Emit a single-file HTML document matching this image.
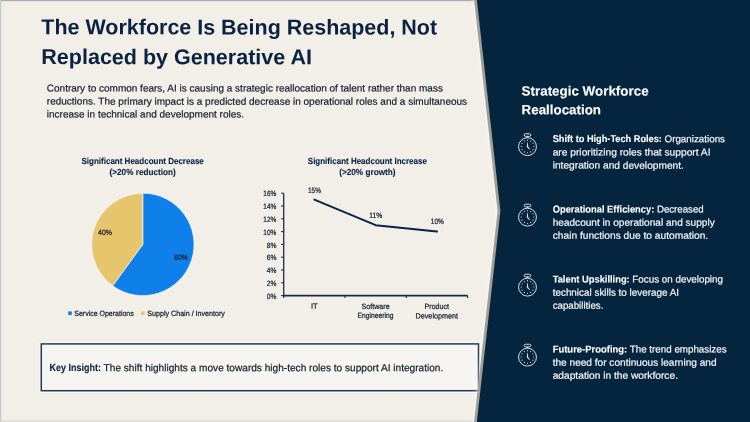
<!DOCTYPE html>
<html><head><meta charset="utf-8"><title>The Workforce Is Being Reshaped</title>
<style>
html,body{margin:0;padding:0;background:#F2EFE9;}
body{width:750px;height:422px;overflow:hidden;}
svg{display:block;font-family:"Liberation Sans",sans-serif;will-change:transform;transform:translateZ(0);}
</style></head><body>
<svg width="750" height="422" viewBox="0 0 750 422">
<defs>
<filter id="b1" x="-10%" y="-5%" width="120%" height="110%" color-interpolation-filters="sRGB"><feGaussianBlur stdDeviation="1.1"/></filter>
<filter id="b2" x="-10%" y="-5%" width="120%" height="110%" color-interpolation-filters="sRGB"><feGaussianBlur stdDeviation="0.4"/></filter>
</defs>
<rect x="0" y="0" width="750" height="422" fill="#F2EFE9"/>
<rect x="0" y="0" width="500" height="1.2" fill="#A9ADB1"/>
<rect x="0" y="0" width="1.2" height="422" fill="#C3C8CC"/>
<rect x="0" y="420.6" width="500" height="1.4" fill="#D9D9D7"/>
<text x="41.30" y="34.30" font-size="21.5" font-weight="bold" fill="#0B2341" text-anchor="start" textLength="395.80" lengthAdjust="spacingAndGlyphs" transform="rotate(0.03 41.30 34.30)">The Workforce Is Being Reshaped, Not</text>
<text x="41.30" y="64.10" font-size="21.5" font-weight="bold" fill="#0B2341" text-anchor="start" textLength="270.60" lengthAdjust="spacingAndGlyphs" transform="rotate(0.03 41.30 64.10)">Replaced by Generative AI</text>
<text x="46.80" y="91.40" font-size="9.9" font-weight="normal" fill="#18202F" stroke="#18202F" stroke-width="0.22" text-anchor="start" textLength="396.10" lengthAdjust="spacingAndGlyphs" transform="rotate(0.03 46.80 91.40)">Contrary to common fears, AI is causing a strategic reallocation of talent rather than mass</text>
<text x="46.80" y="104.60" font-size="9.9" font-weight="normal" fill="#18202F" stroke="#18202F" stroke-width="0.22" text-anchor="start" textLength="420.30" lengthAdjust="spacingAndGlyphs" transform="rotate(0.03 46.80 104.60)">reductions. The primary impact is a predicted decrease in operational roles and a simultaneous</text>
<text x="46.80" y="117.50" font-size="9.9" font-weight="normal" fill="#18202F" stroke="#18202F" stroke-width="0.22" text-anchor="start" textLength="197.20" lengthAdjust="spacingAndGlyphs" transform="rotate(0.03 46.80 117.50)">increase in technical and development roles.</text>
<text x="81.50" y="163.70" font-size="8.9" font-weight="bold" fill="#0B2341" stroke="#0B2341" stroke-width="0.12" text-anchor="start" textLength="122.30" lengthAdjust="spacingAndGlyphs" transform="rotate(0.03 81.50 163.70)">Significant Headcount Decrease</text>
<text x="109.50" y="174.50" font-size="8.9" font-weight="bold" fill="#0B2341" stroke="#0B2341" stroke-width="0.12" text-anchor="start" textLength="66.30" lengthAdjust="spacingAndGlyphs" transform="rotate(0.03 109.50 174.50)">(&gt;20% reduction)</text>
<text x="307.80" y="163.70" font-size="8.9" font-weight="bold" fill="#0B2341" stroke="#0B2341" stroke-width="0.12" text-anchor="start" textLength="119.10" lengthAdjust="spacingAndGlyphs" transform="rotate(0.03 307.80 163.70)">Significant Headcount Increase</text>
<text x="339.20" y="174.50" font-size="8.9" font-weight="bold" fill="#0B2341" stroke="#0B2341" stroke-width="0.12" text-anchor="start" textLength="56.40" lengthAdjust="spacingAndGlyphs" transform="rotate(0.03 339.20 174.50)">(&gt;20% growth)</text>
<circle cx="142.8" cy="244.4" r="51.800000000000004" fill="#FBF9F5"/>
<path d="M142.8,244.4 L142.8,193.2 A51.2,51.2 0 1 1 112.71,285.82 Z" fill="#0F80EA" stroke="#FBF9F5" stroke-width="0.6" stroke-linejoin="round"/>
<path d="M142.8,244.4 L112.71,285.82 A51.2,51.2 0 0 1 142.8,193.2 Z" fill="#E6C56C" stroke="#FBF9F5" stroke-width="0.6" stroke-linejoin="round"/>
<text x="98.00" y="235.00" font-size="7.7" font-weight="normal" fill="#121B2A" stroke="#121B2A" stroke-width="0.22" text-anchor="start" textLength="14.00" lengthAdjust="spacingAndGlyphs" transform="rotate(0.03 98.00 235.00)">40%</text>
<text x="174.00" y="260.00" font-size="7.7" font-weight="normal" fill="#121B2A" stroke="#121B2A" stroke-width="0.22" text-anchor="start" textLength="14.00" lengthAdjust="spacingAndGlyphs" transform="rotate(0.03 174.00 260.00)">60%</text>
<rect x="68.2" y="311.4" width="3.6" height="3.6" fill="#0F80EA"/>
<text x="74.30" y="315.80" font-size="7.7" font-weight="normal" fill="#121B2A" stroke="#121B2A" stroke-width="0.22" text-anchor="start" textLength="59.40" lengthAdjust="spacingAndGlyphs" transform="rotate(0.03 74.30 315.80)">Service Operations</text>
<rect x="141.0" y="311.4" width="3.6" height="3.6" fill="#E6C56C"/>
<text x="147.30" y="315.80" font-size="7.7" font-weight="normal" fill="#121B2A" stroke="#121B2A" stroke-width="0.22" text-anchor="start" textLength="77.60" lengthAdjust="spacingAndGlyphs" transform="rotate(0.03 147.30 315.80)">Supply Chain / Inventory</text>
<path d="M283.7,193.2 V295.6" fill="none" stroke="#1E2C42" stroke-width="1.3"/>
<path d="M283.05,295.6 H467.6" fill="none" stroke="#1E2C42" stroke-width="1.7"/>
<path d="M281.09999999999997,295.60 H283.7" stroke="#1E2C42" stroke-width="1.1"/>
<text x="276.30" y="298.80" font-size="7.7" font-weight="normal" fill="#121B2A" stroke="#121B2A" stroke-width="0.22" text-anchor="end" textLength="9.60" lengthAdjust="spacingAndGlyphs" transform="rotate(0.03 276.30 298.80)">0%</text>
<path d="M281.09999999999997,282.80 H283.7" stroke="#1E2C42" stroke-width="1.1"/>
<text x="276.30" y="286.00" font-size="7.7" font-weight="normal" fill="#121B2A" stroke="#121B2A" stroke-width="0.22" text-anchor="end" textLength="9.60" lengthAdjust="spacingAndGlyphs" transform="rotate(0.03 276.30 286.00)">2%</text>
<path d="M281.09999999999997,270.00 H283.7" stroke="#1E2C42" stroke-width="1.1"/>
<text x="276.30" y="273.20" font-size="7.7" font-weight="normal" fill="#121B2A" stroke="#121B2A" stroke-width="0.22" text-anchor="end" textLength="9.60" lengthAdjust="spacingAndGlyphs" transform="rotate(0.03 276.30 273.20)">4%</text>
<path d="M281.09999999999997,257.20 H283.7" stroke="#1E2C42" stroke-width="1.1"/>
<text x="276.30" y="260.40" font-size="7.7" font-weight="normal" fill="#121B2A" stroke="#121B2A" stroke-width="0.22" text-anchor="end" textLength="9.60" lengthAdjust="spacingAndGlyphs" transform="rotate(0.03 276.30 260.40)">6%</text>
<path d="M281.09999999999997,244.40 H283.7" stroke="#1E2C42" stroke-width="1.1"/>
<text x="276.30" y="247.60" font-size="7.7" font-weight="normal" fill="#121B2A" stroke="#121B2A" stroke-width="0.22" text-anchor="end" textLength="9.60" lengthAdjust="spacingAndGlyphs" transform="rotate(0.03 276.30 247.60)">8%</text>
<path d="M281.09999999999997,231.60 H283.7" stroke="#1E2C42" stroke-width="1.1"/>
<text x="276.30" y="234.80" font-size="7.7" font-weight="normal" fill="#121B2A" stroke="#121B2A" stroke-width="0.22" text-anchor="end" textLength="13.00" lengthAdjust="spacingAndGlyphs" transform="rotate(0.03 276.30 234.80)">10%</text>
<path d="M281.09999999999997,218.80 H283.7" stroke="#1E2C42" stroke-width="1.1"/>
<text x="276.30" y="222.00" font-size="7.7" font-weight="normal" fill="#121B2A" stroke="#121B2A" stroke-width="0.22" text-anchor="end" textLength="13.00" lengthAdjust="spacingAndGlyphs" transform="rotate(0.03 276.30 222.00)">12%</text>
<path d="M281.09999999999997,206.00 H283.7" stroke="#1E2C42" stroke-width="1.1"/>
<text x="276.30" y="209.20" font-size="7.7" font-weight="normal" fill="#121B2A" stroke="#121B2A" stroke-width="0.22" text-anchor="end" textLength="13.00" lengthAdjust="spacingAndGlyphs" transform="rotate(0.03 276.30 209.20)">14%</text>
<path d="M281.09999999999997,193.20 H283.7" stroke="#1E2C42" stroke-width="1.1"/>
<text x="276.30" y="196.40" font-size="7.7" font-weight="normal" fill="#121B2A" stroke="#121B2A" stroke-width="0.22" text-anchor="end" textLength="13.00" lengthAdjust="spacingAndGlyphs" transform="rotate(0.03 276.30 196.40)">16%</text>
<path d="M283.70,295.6 V298.0" stroke="#1E2C42" stroke-width="1.1"/>
<path d="M345.00,295.6 V298.0" stroke="#1E2C42" stroke-width="1.1"/>
<path d="M406.30,295.6 V298.0" stroke="#1E2C42" stroke-width="1.1"/>
<path d="M467.60,295.6 V298.0" stroke="#1E2C42" stroke-width="1.1"/>
<path d="M314.35,199.60 L375.65,225.20 L436.95,231.60" fill="none" stroke="#0B2341" stroke-width="2" stroke-linecap="round" stroke-linejoin="round"/>
<text x="314.50" y="193.00" font-size="7.7" font-weight="normal" fill="#121B2A" stroke="#121B2A" stroke-width="0.22" text-anchor="middle" textLength="13.00" lengthAdjust="spacingAndGlyphs" transform="rotate(0.03 314.50 193.00)">15%</text>
<text x="375.80" y="217.90" font-size="7.7" font-weight="normal" fill="#121B2A" stroke="#121B2A" stroke-width="0.22" text-anchor="middle" textLength="13.00" lengthAdjust="spacingAndGlyphs" transform="rotate(0.03 375.80 217.90)">11%</text>
<text x="437.30" y="224.40" font-size="7.7" font-weight="normal" fill="#121B2A" stroke="#121B2A" stroke-width="0.22" text-anchor="middle" textLength="13.00" lengthAdjust="spacingAndGlyphs" transform="rotate(0.03 437.30 224.40)">10%</text>
<text x="314.30" y="308.70" font-size="7.7" font-weight="normal" fill="#121B2A" stroke="#121B2A" stroke-width="0.22" text-anchor="middle" transform="rotate(0.03 314.30 308.70)">IT</text>
<text x="375.60" y="308.70" font-size="7.7" font-weight="normal" fill="#121B2A" stroke="#121B2A" stroke-width="0.22" text-anchor="middle" textLength="28.00" lengthAdjust="spacingAndGlyphs" transform="rotate(0.03 375.60 308.70)">Software</text>
<text x="375.60" y="318.40" font-size="7.7" font-weight="normal" fill="#121B2A" stroke="#121B2A" stroke-width="0.22" text-anchor="middle" textLength="36.00" lengthAdjust="spacingAndGlyphs" transform="rotate(0.03 375.60 318.40)">Engineering</text>
<text x="436.80" y="308.70" font-size="7.7" font-weight="normal" fill="#121B2A" stroke="#121B2A" stroke-width="0.22" text-anchor="middle" textLength="24.50" lengthAdjust="spacingAndGlyphs" transform="rotate(0.03 436.80 308.70)">Product</text>
<text x="436.80" y="318.40" font-size="7.7" font-weight="normal" fill="#121B2A" stroke="#121B2A" stroke-width="0.22" text-anchor="middle" textLength="42.50" lengthAdjust="spacingAndGlyphs" transform="rotate(0.03 436.80 318.40)">Development</text>
<rect x="39.9" y="342.6" width="440.0" height="49.6" fill="none" stroke="#FFFFFF" stroke-opacity="0.7" stroke-width="1.2"/>
<rect x="41.3" y="343.9" width="437.2" height="46.8" fill="#F7F5F1" stroke="#22385A" stroke-width="1.5"/>
<text x="49.60" y="371.20" font-size="10.35" font-weight="bold" fill="#0B2341" stroke="#0B2341" stroke-width="0.12" text-anchor="start" textLength="51.30" lengthAdjust="spacingAndGlyphs" transform="rotate(0.03 49.60 371.20)">Key Insight:</text>
<text x="103.60" y="371.20" font-size="10.35" font-weight="normal" fill="#18202F" stroke="#18202F" stroke-width="0.22" text-anchor="start" textLength="339.70" lengthAdjust="spacingAndGlyphs" transform="rotate(0.03 103.60 371.20)">The shift highlights a move towards high-tech roles to support AI integration.</text>
<polygon points="471.8,-6 760,-6 760,428 471.8,428 496.0,211" fill="#FFFFFF" fill-opacity="0.4" filter="url(#b1)"/>
<polygon points="473.4,-6 760,-6 760,428 473.4,428 497.6,211" fill="#A19E98" filter="url(#b2)"/>
<polygon points="476.2,-6 760,-6 760,428 476.2,428 500.4,211" fill="#05253F"/>
<text x="521.60" y="95.40" font-size="13.4" font-weight="bold" fill="#FFFFFF" stroke="#FFFFFF" stroke-width="0.12" text-anchor="start" textLength="127.00" lengthAdjust="spacingAndGlyphs" transform="rotate(0.03 521.60 95.40)">Strategic Workforce</text>
<text x="521.60" y="114.30" font-size="13.4" font-weight="bold" fill="#FFFFFF" stroke="#FFFFFF" stroke-width="0.12" text-anchor="start" textLength="79.40" lengthAdjust="spacingAndGlyphs" transform="rotate(0.03 521.60 114.30)">Reallocation</text>
<text x="552.70" y="142.30" font-size="9.9" font-weight="bold" fill="#FFFFFF" stroke="#FFFFFF" stroke-width="0.12" text-anchor="start" textLength="109.20" lengthAdjust="spacingAndGlyphs" transform="rotate(0.03 552.70 142.30)">Shift to High-Tech Roles:</text>
<text x="664.50" y="142.30" font-size="9.9" font-weight="normal" fill="#F0F2F4" stroke="#F0F2F4" stroke-width="0.22" text-anchor="start" textLength="60.50" lengthAdjust="spacingAndGlyphs" transform="rotate(0.03 664.50 142.30)">Organizations</text>
<text x="552.70" y="155.45" font-size="9.9" font-weight="normal" fill="#F0F2F4" stroke="#F0F2F4" stroke-width="0.22" text-anchor="start" textLength="157.80" lengthAdjust="spacingAndGlyphs" transform="rotate(0.03 552.70 155.45)">are prioritizing roles that support AI</text>
<text x="552.70" y="168.60" font-size="9.9" font-weight="normal" fill="#F0F2F4" stroke="#F0F2F4" stroke-width="0.22" text-anchor="start" textLength="131.20" lengthAdjust="spacingAndGlyphs" transform="rotate(0.03 552.70 168.60)">integration and development.</text>
<text x="552.70" y="212.50" font-size="9.9" font-weight="bold" fill="#FFFFFF" stroke="#FFFFFF" stroke-width="0.12" text-anchor="start" textLength="101.60" lengthAdjust="spacingAndGlyphs" transform="rotate(0.03 552.70 212.50)">Operational Efficiency:</text>
<text x="656.90" y="212.50" font-size="9.9" font-weight="normal" fill="#F0F2F4" stroke="#F0F2F4" stroke-width="0.22" text-anchor="start" textLength="46.80" lengthAdjust="spacingAndGlyphs" transform="rotate(0.03 656.90 212.50)">Decreased</text>
<text x="552.70" y="225.65" font-size="9.9" font-weight="normal" fill="#F0F2F4" stroke="#F0F2F4" stroke-width="0.22" text-anchor="start" textLength="162.00" lengthAdjust="spacingAndGlyphs" transform="rotate(0.03 552.70 225.65)">headcount in operational and supply</text>
<text x="552.70" y="238.80" font-size="9.9" font-weight="normal" fill="#F0F2F4" stroke="#F0F2F4" stroke-width="0.22" text-anchor="start" textLength="155.50" lengthAdjust="spacingAndGlyphs" transform="rotate(0.03 552.70 238.80)">chain functions due to automation.</text>
<text x="552.70" y="282.50" font-size="9.9" font-weight="bold" fill="#FFFFFF" stroke="#FFFFFF" stroke-width="0.12" text-anchor="start" textLength="77.00" lengthAdjust="spacingAndGlyphs" transform="rotate(0.03 552.70 282.50)">Talent Upskilling:</text>
<text x="632.30" y="282.50" font-size="9.9" font-weight="normal" fill="#F0F2F4" stroke="#F0F2F4" stroke-width="0.22" text-anchor="start" textLength="90.70" lengthAdjust="spacingAndGlyphs" transform="rotate(0.03 632.30 282.50)">Focus on developing</text>
<text x="552.70" y="295.65" font-size="9.9" font-weight="normal" fill="#F0F2F4" stroke="#F0F2F4" stroke-width="0.22" text-anchor="start" textLength="126.40" lengthAdjust="spacingAndGlyphs" transform="rotate(0.03 552.70 295.65)">technical skills to leverage AI</text>
<text x="552.70" y="308.80" font-size="9.9" font-weight="normal" fill="#F0F2F4" stroke="#F0F2F4" stroke-width="0.22" text-anchor="start" textLength="50.70" lengthAdjust="spacingAndGlyphs" transform="rotate(0.03 552.70 308.80)">capabilities.</text>
<text x="552.70" y="352.50" font-size="9.9" font-weight="bold" fill="#FFFFFF" stroke="#FFFFFF" stroke-width="0.12" text-anchor="start" textLength="74.50" lengthAdjust="spacingAndGlyphs" transform="rotate(0.03 552.70 352.50)">Future-Proofing:</text>
<text x="629.80" y="352.50" font-size="9.9" font-weight="normal" fill="#F0F2F4" stroke="#F0F2F4" stroke-width="0.22" text-anchor="start" textLength="96.80" lengthAdjust="spacingAndGlyphs" transform="rotate(0.03 629.80 352.50)">The trend emphasizes</text>
<text x="552.70" y="365.65" font-size="9.9" font-weight="normal" fill="#F0F2F4" stroke="#F0F2F4" stroke-width="0.22" text-anchor="start" textLength="163.90" lengthAdjust="spacingAndGlyphs" transform="rotate(0.03 552.70 365.65)">the need for continuous learning and</text>
<text x="552.70" y="378.80" font-size="9.9" font-weight="normal" fill="#F0F2F4" stroke="#F0F2F4" stroke-width="0.22" text-anchor="start" textLength="125.30" lengthAdjust="spacingAndGlyphs" transform="rotate(0.03 552.70 378.80)">adaptation in the workforce.</text>
<g fill="none" stroke="#DADDE1" stroke-width="1">
<circle cx="527.5" cy="146.65" r="8.95"/>
<rect x="524.2" y="133.75" width="6.6" height="2.6" rx="1.2"/>
<path d="M527.5,136.4 V137.7" stroke-width="1.5"/>
</g>
<circle cx="527.50" cy="140.20" r="0.62" fill="#DADDE1"/>
<circle cx="530.65" cy="141.04" r="0.62" fill="#DADDE1"/>
<circle cx="532.96" cy="143.35" r="0.62" fill="#DADDE1"/>
<circle cx="533.80" cy="146.50" r="0.62" fill="#DADDE1"/>
<circle cx="532.96" cy="149.65" r="0.62" fill="#DADDE1"/>
<circle cx="530.65" cy="151.96" r="0.62" fill="#DADDE1"/>
<circle cx="527.50" cy="152.80" r="0.62" fill="#DADDE1"/>
<circle cx="524.35" cy="151.96" r="0.62" fill="#DADDE1"/>
<circle cx="522.04" cy="149.65" r="0.62" fill="#DADDE1"/>
<circle cx="521.20" cy="146.50" r="0.62" fill="#DADDE1"/>
<circle cx="522.04" cy="143.35" r="0.62" fill="#DADDE1"/>
<circle cx="524.35" cy="141.04" r="0.62" fill="#DADDE1"/>
<path d="M526.75,147.1 L527.25,142.2 H527.75 L528.25,146.8 L530.0,148.9 L529.3,149.6 Z" fill="#DADDE1"/>
<g fill="none" stroke="#DADDE1" stroke-width="1">
<circle cx="527.5" cy="217.15" r="8.95"/>
<rect x="524.2" y="204.25" width="6.6" height="2.6" rx="1.2"/>
<path d="M527.5,206.9 V208.2" stroke-width="1.5"/>
</g>
<circle cx="527.50" cy="210.70" r="0.62" fill="#DADDE1"/>
<circle cx="530.65" cy="211.54" r="0.62" fill="#DADDE1"/>
<circle cx="532.96" cy="213.85" r="0.62" fill="#DADDE1"/>
<circle cx="533.80" cy="217.00" r="0.62" fill="#DADDE1"/>
<circle cx="532.96" cy="220.15" r="0.62" fill="#DADDE1"/>
<circle cx="530.65" cy="222.46" r="0.62" fill="#DADDE1"/>
<circle cx="527.50" cy="223.30" r="0.62" fill="#DADDE1"/>
<circle cx="524.35" cy="222.46" r="0.62" fill="#DADDE1"/>
<circle cx="522.04" cy="220.15" r="0.62" fill="#DADDE1"/>
<circle cx="521.20" cy="217.00" r="0.62" fill="#DADDE1"/>
<circle cx="522.04" cy="213.85" r="0.62" fill="#DADDE1"/>
<circle cx="524.35" cy="211.54" r="0.62" fill="#DADDE1"/>
<path d="M526.75,217.6 L527.25,212.7 H527.75 L528.25,217.3 L530.0,219.4 L529.3,220.1 Z" fill="#DADDE1"/>
<g fill="none" stroke="#DADDE1" stroke-width="1">
<circle cx="527.5" cy="287.15" r="8.95"/>
<rect x="524.2" y="274.25" width="6.6" height="2.6" rx="1.2"/>
<path d="M527.5,276.9 V278.2" stroke-width="1.5"/>
</g>
<circle cx="527.50" cy="280.70" r="0.62" fill="#DADDE1"/>
<circle cx="530.65" cy="281.54" r="0.62" fill="#DADDE1"/>
<circle cx="532.96" cy="283.85" r="0.62" fill="#DADDE1"/>
<circle cx="533.80" cy="287.00" r="0.62" fill="#DADDE1"/>
<circle cx="532.96" cy="290.15" r="0.62" fill="#DADDE1"/>
<circle cx="530.65" cy="292.46" r="0.62" fill="#DADDE1"/>
<circle cx="527.50" cy="293.30" r="0.62" fill="#DADDE1"/>
<circle cx="524.35" cy="292.46" r="0.62" fill="#DADDE1"/>
<circle cx="522.04" cy="290.15" r="0.62" fill="#DADDE1"/>
<circle cx="521.20" cy="287.00" r="0.62" fill="#DADDE1"/>
<circle cx="522.04" cy="283.85" r="0.62" fill="#DADDE1"/>
<circle cx="524.35" cy="281.54" r="0.62" fill="#DADDE1"/>
<path d="M526.75,287.6 L527.25,282.7 H527.75 L528.25,287.3 L530.0,289.4 L529.3,290.1 Z" fill="#DADDE1"/>
<g fill="none" stroke="#DADDE1" stroke-width="1">
<circle cx="527.5" cy="357.15" r="8.95"/>
<rect x="524.2" y="344.25" width="6.6" height="2.6" rx="1.2"/>
<path d="M527.5,346.9 V348.2" stroke-width="1.5"/>
</g>
<circle cx="527.50" cy="350.70" r="0.62" fill="#DADDE1"/>
<circle cx="530.65" cy="351.54" r="0.62" fill="#DADDE1"/>
<circle cx="532.96" cy="353.85" r="0.62" fill="#DADDE1"/>
<circle cx="533.80" cy="357.00" r="0.62" fill="#DADDE1"/>
<circle cx="532.96" cy="360.15" r="0.62" fill="#DADDE1"/>
<circle cx="530.65" cy="362.46" r="0.62" fill="#DADDE1"/>
<circle cx="527.50" cy="363.30" r="0.62" fill="#DADDE1"/>
<circle cx="524.35" cy="362.46" r="0.62" fill="#DADDE1"/>
<circle cx="522.04" cy="360.15" r="0.62" fill="#DADDE1"/>
<circle cx="521.20" cy="357.00" r="0.62" fill="#DADDE1"/>
<circle cx="522.04" cy="353.85" r="0.62" fill="#DADDE1"/>
<circle cx="524.35" cy="351.54" r="0.62" fill="#DADDE1"/>
<path d="M526.75,357.6 L527.25,352.7 H527.75 L528.25,357.3 L530.0,359.4 L529.3,360.1 Z" fill="#DADDE1"/>
</svg>
</body></html>
